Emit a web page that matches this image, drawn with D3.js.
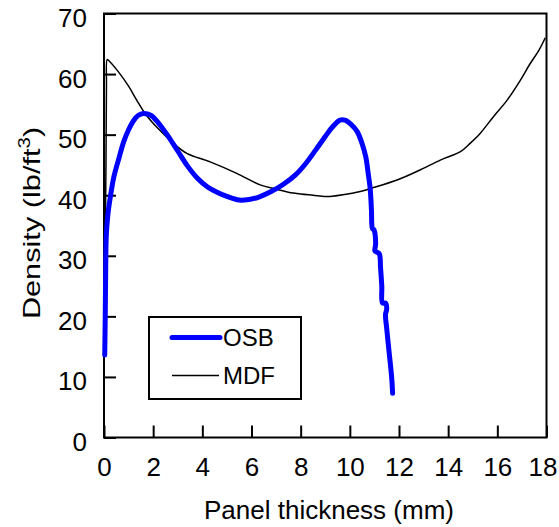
<!DOCTYPE html>
<html><head><meta charset="utf-8">
<script src="https://cdn.jsdelivr.net/npm/d3@7"></script>
<style>
body{margin:0;background:#fff}
svg{display:block;background:#fff}
text{font-family:Arial,"Liberation Sans",sans-serif;fill:#000}
</style>
</head><body>
<svg id="c" width="559" height="527"></svg>
<script>
// ---- data ----
const osbX = [0.03,0.05,0.07,0.09,0.15,0.25,0.4,0.6,0.8,1.0,1.2,1.4,1.6,1.9,2.2,2.6,3.0,3.4,3.8,4.2,4.6,5.0,5.5,5.9,6.3,6.8,7.3,7.8,8.2,8.6,9.0,9.3,9.6,9.8,10.05,10.3,10.5,10.65,10.75,10.83,10.88,10.92,10.98,11.05,11.02,11.1,11.2,11.25,11.3,11.33,11.45,11.5,11.45,11.5,11.6,11.7,11.74];
const osbY = [13.6,20,28,33,36.5,39.5,43,46,48.8,50.8,52.3,53.2,53.5,53.2,52,49.8,47.3,44.8,42.8,41.4,40.5,39.8,39.2,39.3,39.7,40.6,41.8,43.4,45.2,47.4,49.7,51.3,52.4,52.4,51.7,50.5,48.5,46.3,43.5,41,37.5,34.5,34.3,32.0,30.8,30.6,30.3,28,25,22.2,22.2,21.2,20.3,18,14,10,7.3];
const mdfX = [0.05,0.08,0.1,0.13,0.2,0.58,1.0,1.33,1.67,2.2,2.82,3.37,4.32,5.4,6.35,7.0,7.5,8.0,8.5,9.0,9.2,10.42,10.83,11.92,12.87,13.68,14.5,14.9,15.3,15.85,16.4,16.94,17.3,17.7,17.95];
const mdfY = [33,45,58,62.4,62.2,60.4,58,55.7,53.5,51,48.6,46.9,45.5,43.6,41.7,41.0,40.5,40.2,40.0,39.8,39.8,40.6,41.1,42.5,44.2,45.8,47.2,48.6,50.2,53,55.7,59,61.5,64,66];
const xTicks = [0,2,4,6,8,10,12,14,16,18];
const yTicks = [0,10,20,30,40,50,60,70];
const seriesNames = ["OSB","MDF"];
const xTitle = "Panel thickness (mm)";

// ---- layout ----
const svg = d3.select("#c");
const L = 104, R = 546.5, T = 13.5, B = 437.5;
const x = d3.scaleLinear().domain([0,18]).range([L,R]);
const y = d3.scaleLinear().domain([0,70]).range([B,T]);

// axes
const xAxis = d3.axisBottom(x).tickValues(xTicks).tickSizeInner(-12).tickSizeOuter(0).tickPadding(20);
const gx = svg.append("g").attr("transform",`translate(0,${B})`).call(xAxis);
gx.select(".domain").remove();
gx.selectAll("line").attr("stroke","#000").attr("stroke-width",2);
gx.selectAll("text").attr("font-size",26).attr("font-family",null).attr("fill","#000")
  .attr("x",(d,i,n)=> i===n.length-1 ? -4 : 0);

const yAxis = d3.axisLeft(y).tickValues(yTicks).tickSizeInner(-12).tickSizeOuter(0).tickPadding(17);
const gy = svg.append("g").attr("transform",`translate(${L},0)`).call(yAxis);
gy.select(".domain").remove();
gy.selectAll("line").attr("stroke","#000").attr("stroke-width",2);
gy.selectAll("text").attr("font-size",26).attr("font-family",null).attr("fill","#000").attr("dy","0.5em");

// frame
svg.append("rect").attr("x",L).attr("y",T).attr("width",R-L).attr("height",B-T)
  .attr("fill","none").attr("stroke","#000").attr("stroke-width",2);

// lines
const line = d3.line().x(d=>x(d[0])).y(d=>y(d[1])).curve(d3.curveCatmullRom.alpha(0.5));
const mdf = mdfX.map((v,i)=>[v,mdfY[i]]);
const osb = osbX.map((v,i)=>[v,osbY[i]]);
svg.append("path").attr("d",line(mdf)).attr("fill","none").attr("stroke","#000").attr("stroke-width",1.5);
svg.append("path").attr("d",line(osb)).attr("fill","none").attr("stroke","#0000ff").attr("stroke-width",5)
  .attr("stroke-linecap","round").attr("stroke-linejoin","round");

// legend
const lg = svg.append("g");
lg.append("rect").attr("x",149).attr("y",317).attr("width",152).attr("height",82)
  .attr("fill","#fff").attr("stroke","#000").attr("stroke-width",2);
lg.append("line").attr("x1",172).attr("x2",220).attr("y1",337.5).attr("y2",337.5)
  .attr("stroke","#0000ff").attr("stroke-width",5).attr("stroke-linecap","round");
lg.append("line").attr("x1",172).attr("x2",219).attr("y1",375.5).attr("y2",375.5)
  .attr("stroke","#000").attr("stroke-width",1.5);
lg.append("text").attr("x",223).attr("y",346).attr("font-size",24).text(seriesNames[0]);
lg.append("text").attr("x",223).attr("y",384).attr("font-size",24).text(seriesNames[1]);

// titles
svg.append("text").attr("x",329).attr("y",519).attr("text-anchor","middle").attr("font-size",26).text(xTitle);
const yt = svg.append("text").attr("transform","translate(39.5,223) rotate(-90) scale(1.28,1)")
  .attr("text-anchor","middle").attr("font-size",24);
yt.append("tspan").text("Density (lb/ft");
yt.append("tspan").attr("font-size",16).attr("dy",-10).text("3");
yt.append("tspan").attr("dy",10).text(")");
</script>
</body></html>
